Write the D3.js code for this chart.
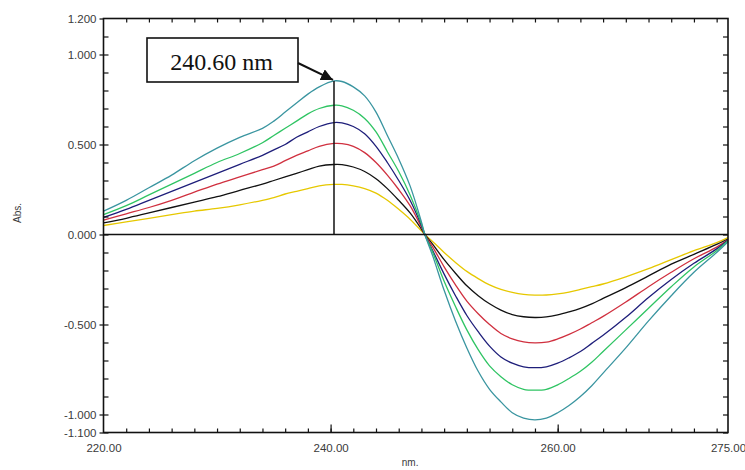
<!DOCTYPE html>
<html>
<head>
<meta charset="utf-8">
<script src="https://cdn.jsdelivr.net/npm/d3@7"></script>
<style>
  html, body { margin: 0; padding: 0; background: #fff; }
  svg { display: block; }
</style>
</head>
<body>
<svg id="chart" width="745" height="470"></svg>
<script>
// ---- data ----
const wavelengths = [220,222,224,226,228,230,232,234,235,236,237,238,239,240.3,241,242,243,244,245,246,247,248,248.3,249,250,251,252,253,254,255,256,257,258,259,260,261,262,263,264,266,268,270,272,274,275];

const tealValues   = [0.13,0.19,0.26,0.33,0.41,0.48,0.54,0.59,0.63,0.68,0.73,0.78,0.82,0.853,0.85,0.82,0.77,0.68,0.55,0.42,0.27,0.07,0.0,-0.12,-0.31,-0.48,-0.63,-0.76,-0.86,-0.93,-0.99,-1.02,-1.03,-1.02,-0.99,-0.95,-0.90,-0.84,-0.77,-0.63,-0.48,-0.34,-0.21,-0.10,-0.04];
const greenValues  = [0.11,0.16,0.22,0.28,0.34,0.40,0.45,0.51,0.55,0.59,0.63,0.67,0.70,0.718,0.715,0.69,0.645,0.57,0.46,0.35,0.22,0.06,0.0,-0.10,-0.26,-0.40,-0.53,-0.64,-0.73,-0.79,-0.835,-0.86,-0.865,-0.86,-0.835,-0.80,-0.76,-0.71,-0.65,-0.53,-0.41,-0.29,-0.18,-0.09,-0.035];
const navyValues   = [0.095,0.14,0.19,0.24,0.29,0.34,0.39,0.44,0.47,0.50,0.54,0.57,0.60,0.622,0.62,0.60,0.56,0.49,0.40,0.30,0.19,0.05,0.0,-0.09,-0.22,-0.34,-0.45,-0.54,-0.62,-0.68,-0.715,-0.735,-0.74,-0.735,-0.715,-0.685,-0.65,-0.605,-0.56,-0.46,-0.35,-0.25,-0.16,-0.08,-0.03];
const redValues    = [0.08,0.115,0.15,0.19,0.235,0.28,0.32,0.36,0.38,0.41,0.44,0.465,0.49,0.506,0.505,0.49,0.455,0.40,0.33,0.25,0.16,0.04,0.0,-0.07,-0.18,-0.28,-0.37,-0.44,-0.50,-0.55,-0.58,-0.597,-0.602,-0.598,-0.58,-0.555,-0.525,-0.49,-0.455,-0.375,-0.29,-0.21,-0.135,-0.07,-0.03];
const blackValues  = [0.064,0.09,0.12,0.15,0.18,0.21,0.245,0.28,0.30,0.32,0.34,0.36,0.38,0.389,0.388,0.375,0.35,0.31,0.255,0.19,0.12,0.03,0.0,-0.055,-0.14,-0.215,-0.285,-0.34,-0.385,-0.42,-0.445,-0.457,-0.461,-0.458,-0.447,-0.43,-0.41,-0.385,-0.355,-0.295,-0.23,-0.165,-0.11,-0.055,-0.025];
const yellowValues = [0.05,0.07,0.09,0.11,0.13,0.145,0.165,0.19,0.205,0.225,0.24,0.255,0.27,0.278,0.278,0.27,0.255,0.23,0.19,0.14,0.085,0.02,0.0,-0.04,-0.10,-0.155,-0.205,-0.245,-0.28,-0.305,-0.322,-0.333,-0.337,-0.336,-0.33,-0.32,-0.305,-0.29,-0.275,-0.235,-0.19,-0.14,-0.09,-0.045,-0.017];

const seriesNames  = ["yellow","black","red","navy","green","teal"];
const seriesColors = ["#e6c800","#111111","#d0303f","#1e1e7a","#2fc463","#3a95a0"];
const seriesValues = [yellowValues, blackValues, redValues, navyValues, greenValues, tealValues];

const xTickLabels = [220, 240, 260, 275];
const yTickLabels = [1.2, 1.0, 0.5, 0.0, -0.5, -1.0, -1.1];
const peakWavelength = 240.3;
const peakValue = 0.853;
const peakLabel = "240.60 nm";
const xTitle = "nm.";
const yTitle = "Abs.";

// ---- layout ----
const svg = d3.select("#chart");
const L = 103.5, R = 728, T = 18.5, B = 432.5;
const x = d3.scaleLinear().domain([220, 275]).range([L, R]);
const y = d3.scaleLinear().domain([-1.1, 1.2]).range([B, T]);

const fontSans = "'Liberation Sans', Arial, sans-serif";
const labelColor = "#3a3a3a";

// curves
const line = d3.line()
  .x((d, i) => x(wavelengths[i]))
  .y(d => y(d))
  .curve(d3.curveCatmullRom.alpha(0.5));

const curves = svg.append("g").attr("class", "curves");
seriesValues.forEach((vals, k) => {
  curves.append("path")
    .datum(vals)
    .attr("d", line)
    .attr("fill", "none")
    .attr("stroke", seriesColors[k])
    .attr("stroke-width", 1.3)
    .attr("stroke-linejoin", "round");
});

// zero line
svg.append("line")
  .attr("x1", x(220)).attr("x2", x(275))
  .attr("y1", y(0)).attr("y2", y(0))
  .attr("stroke", "#111").attr("stroke-width", 1.5);

// peak vertical marker
svg.append("line")
  .attr("x1", x(peakWavelength)).attr("x2", x(peakWavelength))
  .attr("y1", y(0)).attr("y2", y(peakValue))
  .attr("stroke", "#111").attr("stroke-width", 1.5);

function styleAxis(g) {
  g.select(".domain").remove();
  g.selectAll(".tick line").attr("stroke", "#111").attr("stroke-width", 1.2);
  g.selectAll("text")
    .attr("font-family", fontSans)
    .attr("font-size", 11.5)
    .attr("fill", labelColor);
}

const xMinor = d3.range(222, 275, 2);
const yMinor = d3.range(-11, 12).map(v => v / 10);

svg.append("g").attr("transform", `translate(0,${B})`)
  .call(d3.axisBottom(x).tickValues(xMinor).tickSize(-4).tickFormat(""))
  .call(styleAxis);
svg.append("g").attr("transform", `translate(0,${B})`)
  .call(d3.axisBottom(x).tickValues([240, 260]).tickSize(-8).tickFormat(""))
  .call(styleAxis);
svg.append("g").attr("transform", `translate(0,${T})`)
  .call(d3.axisTop(x).tickValues(xMinor).tickSize(-4).tickFormat(""))
  .call(styleAxis);
svg.append("g").attr("transform", `translate(${L},0)`)
  .call(d3.axisLeft(y).tickValues(yMinor).tickSize(-5).tickFormat(""))
  .call(styleAxis);
svg.append("g").attr("transform", `translate(${R},0)`)
  .call(d3.axisRight(y).tickValues(yMinor).tickSize(-5).tickFormat(""))
  .call(styleAxis);

// labelled axes
svg.append("g").attr("transform", `translate(${L},0)`)
  .call(d3.axisLeft(y).tickValues(yTickLabels).tickSize(4).tickPadding(3)
    .tickFormat(d => d.toFixed(3)))
  .call(styleAxis);
svg.append("g").attr("transform", `translate(0,${B})`)
  .call(d3.axisBottom(x).tickValues(xTickLabels).tickSize(0).tickPadding(11)
    .tickFormat(d => d.toFixed(2)))
  .call(styleAxis);

// frame
svg.append("rect")
  .attr("x", L).attr("y", T)
  .attr("width", R - L).attr("height", B - T)
  .attr("fill", "none").attr("stroke", "#111").attr("stroke-width", 1.6);

// axis titles
svg.append("text")
  .attr("x", x(247)).attr("y", 466)
  .attr("text-anchor", "middle")
  .attr("font-family", fontSans).attr("font-size", 10)
  .attr("fill", labelColor)
  .text(xTitle);
svg.append("text")
  .attr("transform", "translate(21,213) rotate(-90)")
  .attr("text-anchor", "middle")
  .attr("font-family", fontSans).attr("font-size", 10)
  .attr("fill", labelColor)
  .text(yTitle);

// annotation box + arrow
const defs = svg.append("defs");
defs.append("marker")
  .attr("id", "arrowhead")
  .attr("viewBox", "0 0 10 10")
  .attr("refX", 10).attr("refY", 5)
  .attr("markerWidth", 6).attr("markerHeight", 6)
  .attr("markerUnits", "strokeWidth")
  .attr("orient", "auto")
  .append("path").attr("d", "M0,0 L10,5 L0,10 z").attr("fill", "#111");

const boxX = 147, boxY = 38, boxW = 151, boxH = 44;
svg.append("rect")
  .attr("x", boxX).attr("y", boxY)
  .attr("width", boxW).attr("height", boxH)
  .attr("fill", "#fff").attr("stroke", "#111").attr("stroke-width", 1.6);
svg.append("text")
  .attr("x", boxX + boxW / 2 - 1).attr("y", boxY + 32)
  .attr("text-anchor", "middle")
  .attr("font-family", "'Liberation Serif', 'Times New Roman', serif")
  .attr("font-size", 24)
  .attr("fill", "#111")
  .text(peakLabel);
svg.append("line")
  .attr("x1", boxX + boxW).attr("y1", boxY + 25)
  .attr("x2", x(peakWavelength) - 1).attr("y2", y(peakValue) - 1)
  .attr("stroke", "#111").attr("stroke-width", 2)
  .attr("marker-end", "url(#arrowhead)");
</script>
</body>
</html>
